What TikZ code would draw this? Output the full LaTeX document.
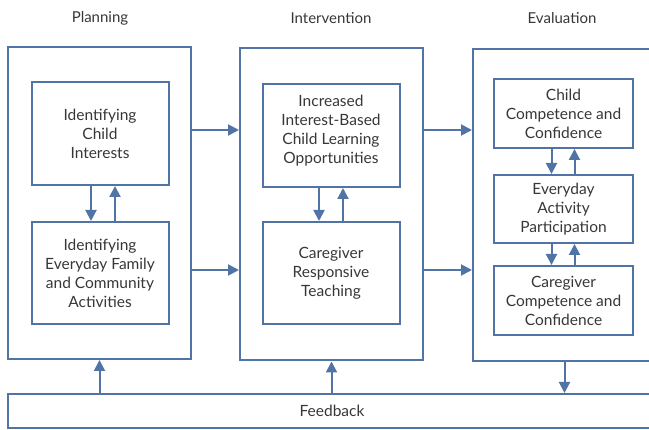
\documentclass[tikz,border=0pt]{standalone}
\usepackage{fontspec}
\setmainfont{Lato}
\usetikzlibrary{positioning,arrows.meta}
\definecolor{FrameBlue}{RGB}{80,116,166}
\definecolor{InkGray}{RGB}{55,55,55}
\tikzset{frame/.style={draw=FrameBlue,line width=2pt,minimum width=183pt,minimum height=312pt,inner sep=0pt}, box/.style={draw=FrameBlue,line width=2pt,align=center,text=InkGray,font=\fontsize{15.5}{19}\selectfont,minimum width=137pt,inner sep=0pt}, flow/.style={draw=FrameBlue,line width=2pt,-{Triangle[length=11pt,width=11pt]}}, head/.style={text=InkGray,font=\fontsize{15}{17}\selectfont}}

\begin{document}
\begin{tikzpicture}[x=1pt,y=-1pt]
\useasboundingbox (0,0) rectangle (649,430);
\clip (0,0) rectangle (649,430);
\coordinate (upper) at (0,130);
\coordinate (lower) at (0,270);
\node[head] (tplan) at (100,18) {Planning};
\node[head] (tint) at (331,18) {Intervention};
\node[head] (teval) at (562,18) {Evaluation};
\node[frame] (plan) at (99.5,203) {};
\node[frame] (intv) at (331.5,204.5) {};
\node[frame] (eval) at (564.5,205) {};
\node[box,minimum height=103pt] (ichild) at (100,133.5) {Identifying\\Child\\Interests};
\node[box,minimum height=102pt] (ifam) at (100,273) {Identifying\\Everyday Family\\and Community\\Activities};
\node[box,minimum height=103pt,text depth=12pt] (incr) at (331,135.5) {Increased\\Interest-Based\\Child Learning\\Opportunities};
\node[box,minimum height=102pt] (teach) at (331,273) {Caregiver\\Responsive\\Teaching};
\node[box,minimum width=139pt,minimum height=69pt] (cchild) at (563.5,113.5) {Child\\Competence and\\Confidence};
\node[box,minimum width=139pt,minimum height=68pt] (act) at (563.5,209) {Everyday\\Activity\\Participation};
\node[box,minimum width=139pt,minimum height=69pt] (ccare) at (563.5,300.5) {Caregiver\\Competence and\\Confidence};
\node[box,minimum width=648pt,minimum height=34pt] (fb) at (332,411) {Feedback};
\draw[flow] ([xshift=-9pt]ichild.south) -- ([xshift=-9pt]ifam.north);
\draw[flow] ([xshift=15pt]ifam.north) -- ([xshift=15pt]ichild.south);
\draw[flow] ([xshift=-12pt]incr.south) -- ([xshift=-12pt]teach.north);
\draw[flow] ([xshift=12pt]teach.north) -- ([xshift=12pt]incr.south);
\draw[flow] ([xshift=-12pt]cchild.south) -- ([xshift=-12pt]act.north);
\draw[flow] ([xshift=11pt]act.north) -- ([xshift=11pt]cchild.south);
\draw[flow] ([xshift=-12pt]act.south) -- ([xshift=-12pt]ccare.north);
\draw[flow] ([xshift=11pt]ccare.north) -- ([xshift=11pt]act.south);
\draw[flow] (plan.east |- upper) -- (intv.west |- upper);
\draw[flow] (plan.east |- lower) -- (intv.west |- lower);
\draw[flow] (intv.east |- upper) -- (eval.west |- upper);
\draw[flow] (intv.east |- lower) -- (eval.west |- lower);
\draw[flow] (fb.north -| plan.south) -- (plan.south);
\draw[flow] (fb.north -| intv.south) -- (intv.south);
\draw[flow] (eval.south) -- (fb.north -| eval.south);
\end{tikzpicture}
\end{document}
